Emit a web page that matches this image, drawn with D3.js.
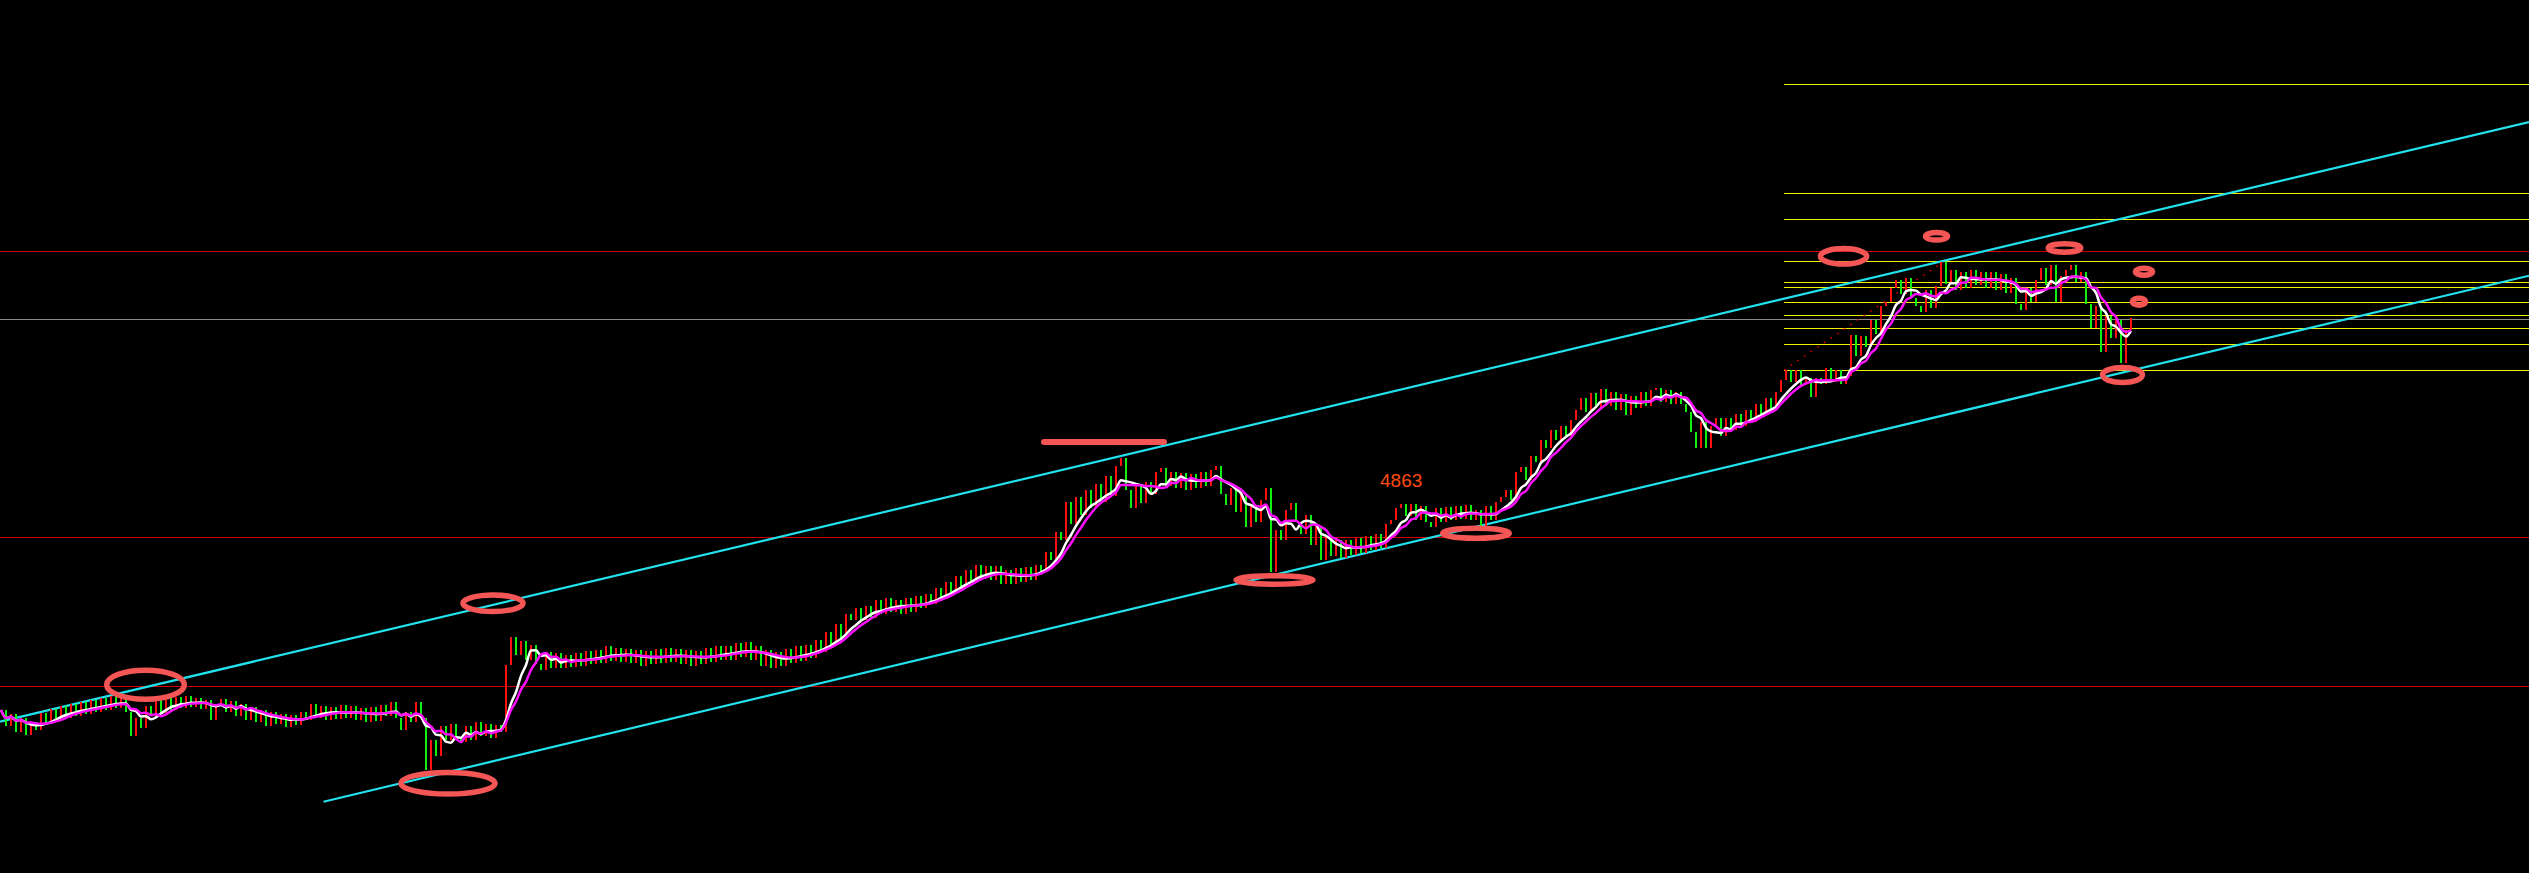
<!DOCTYPE html>
<html><head><meta charset="utf-8">
<script src="https://cdn.jsdelivr.net/npm/d3@7"></script>
<style>html,body{margin:0;padding:0;background:#000;overflow:hidden}</style>
</head><body>
<svg id="chart" width="2529" height="873"></svg>
<script>
// ---- data (price units) ----
const closes = [
4690,4674,4686,4668,4682,4665,4678,4670,4687,4676,4691,4680,4694,4682,4696,4684,4698,4686,4700,4688,
4702,4690,4704,4692,4703,4688,4664,4682,4672,4694,4684,4700,4687,4702,4690,4703,4692,4704,4693,4702,
4691,4700,4680,4696,4701,4688,4699,4684,4696,4680,4693,4678,4690,4674,4688,4676,4686,4673,4685,4675,
4688,4680,4696,4682,4694,4680,4693,4681,4695,4682,4694,4680,4692,4678,4693,4679,4695,4684,4698,4682,
4670,4688,4678,4698,4682,4630,4660,4644,4674,4660,4676,4662,4658,4674,4660,4678,4664,4676,4662,4675,
4668,4735,4763,4745,4759,4740,4755,4736,4730,4748,4732,4747,4732,4745,4733,4747,4734,4749,4736,4750,
4737,4754,4739,4752,4738,4751,4737,4750,4734,4749,4736,4751,4737,4752,4738,4751,4736,4750,4734,4749,
4736,4752,4738,4754,4740,4754,4740,4757,4743,4758,4740,4754,4734,4750,4732,4748,4734,4751,4737,4754,
4739,4755,4742,4760,4748,4768,4754,4776,4762,4786,4780,4792,4780,4794,4782,4800,4786,4802,4788,4800,
4786,4802,4788,4804,4792,4806,4796,4812,4802,4818,4806,4824,4812,4830,4818,4835,4822,4834,4820,4834,
4816,4830,4816,4832,4818,4833,4820,4835,4828,4848,4840,4868,4860,4898,4876,4903,4885,4910,4892,4916,
4898,4924,4904,4934,4942,4910,4892,4914,4897,4918,4906,4928,4932,4914,4928,4912,4927,4910,4926,4912,
4928,4914,4930,4934,4906,4895,4912,4888,4906,4873,4895,4878,4900,4912,4828,4870,4860,4890,4897,4878,
4866,4885,4855,4874,4840,4865,4844,4860,4842,4860,4845,4862,4847,4864,4850,4866,4852,4876,4880,4892,
4896,4884,4896,4880,4894,4878,4873,4892,4878,4893,4880,4894,4881,4895,4880,4890,4874,4894,4880,4898,
4903,4910,4900,4928,4933,4920,4944,4938,4960,4952,4970,4960,4974,4964,4980,4990,5002,4988,5007,4992,
5011,4994,5008,4990,5006,4985,5004,4992,5008,4994,5010,5012,4998,5010,4996,5008,4996,4988,4968,4952,
4978,4952,4974,4982,4964,4982,4970,4986,4974,4990,4978,4996,4986,5002,4990,5008,5020,5030,5018,5030,
5015,5022,5003,5022,5016,5032,5018,5030,5016,5024,5065,5044,5064,5053,5080,5066,5094,5098,5112,5120,
5106,5122,5102,5094,5088,5110,5092,5114,5138,5116,5130,5110,5128,5112,5130,5115,5128,5112,5128,5110,
5126,5107,5122,5096,5090,5112,5098,5120,5132,5115,5135,5098,5124,5130,5135,5118,5128,5096,5072,5094,
5048,5084,5062,5080,5037,5070,5082
];
const maFastWindow = 6;
const maSlowWindow = 8;
const redLevels = [5149, 4863, 4714];
const grayLevels = [5081];
const fibLevels = [5030, 5056, 5072, 5085, 5098, 5113, 5118, 5139, 5181, 5207, 5316];
const fibStartIndex = 356.6;
const channelUpper = [[-0.2, 4678.3], [505.6, 5278]];
const channelLower = [[64.5, 4598.3], [505.6, 5124.3]];
const fibTrend = [[356.6, 5030], [388.5, 5138.3]];
// ring annotations: [centerIndex, centerPrice, halfSpanIndex, halfSpanPrice]
const rings = [
  [28.9, 4715.3, 7.76, 14.5],
  [89.4, 4616.7, 9.4, 10.8],
  [98.4, 4796.8, 6.0, 8.3],
  [254.7, 4820, 7.7, 4.2],
  [295.0, 4866.8, 6.66, 5.0],
  [368.5, 5143.7, 4.62, 7.8],
  [387.1, 5163.7, 2.2, 3.8],
  [412.7, 5152, 3.24, 4.2],
  [428.6, 5128.3, 1.7, 3.5],
  [427.6, 5098.3, 1.3, 3.5],
  [424.3, 5025, 3.98, 7.5]
];
const markBar = [[208.6, 4958], [232.6, 4958]];
const labelText = "4863";
const labelAt = [275.8, 4913.5];

// ---- drawing ----
const W = 2529, H = 873;
const svg = d3.select("#chart");
svg.append("rect").attr("width", W).attr("height", H).attr("fill", "#000");
const x = d3.scaleLinear().domain([0, closes.length - 1]).range([1, 2131]);
const y = d3.scaleLinear().domain([4527, 5400]).range([H, 0]);
const crisp = v => Math.round(y(v)) + 0.5;

const gLevels = svg.append("g").attr("shape-rendering", "crispEdges");
gLevels.selectAll("line.red").data(redLevels).join("line")
  .attr("x1", 0).attr("x2", W).attr("y1", crisp).attr("y2", crisp)
  .attr("stroke", "#d00000").attr("stroke-width", 1);
gLevels.selectAll("line.gray").data(grayLevels).join("line")
  .attr("x1", 0).attr("x2", W).attr("y1", crisp).attr("y2", crisp)
  .attr("stroke", "#8a8a8a").attr("stroke-width", 1);
gLevels.selectAll("line.fib").data(fibLevels).join("line")
  .attr("x1", x(fibStartIndex)).attr("x2", W).attr("y1", crisp).attr("y2", crisp)
  .attr("stroke", "#f0f000").attr("stroke-width", 1);

svg.append("line")
  .attr("x1", x(fibTrend[0][0])).attr("y1", y(fibTrend[0][1]))
  .attr("x2", x(fibTrend[1][0])).attr("y2", y(fibTrend[1][1]))
  .attr("stroke", "#e00000").attr("stroke-width", 1.2).attr("stroke-dasharray", "2,6");

svg.selectAll("line.chan").data([channelUpper, channelLower]).join("line")
  .attr("x1", d => x(d[0][0])).attr("y1", d => y(d[0][1]))
  .attr("x2", d => x(d[1][0])).attr("y2", d => y(d[1][1]))
  .attr("stroke", "#22e2ee").attr("stroke-width", 2.2);

const candles = closes.map((c, i) => ({ i, o: i === 0 ? c : closes[i - 1], c }));
svg.append("g").attr("shape-rendering", "crispEdges").selectAll("rect").data(candles).join("rect")
  .attr("x", d => x(d.i) - 1)
  .attr("width", 2)
  .attr("y", d => y(Math.max(d.o, d.c)))
  .attr("height", d => Math.max(1, Math.abs(y(d.o) - y(d.c))))
  .attr("fill", d => d.c >= d.o ? "#ff1010" : "#10f010");

function sma(arr, w) {
  return arr.map((_, i) => d3.mean(arr.slice(Math.max(0, i - w + 1), i + 1)));
}
const line = d3.line().x((d, i) => x(i)).y(d => y(d)).curve(d3.curveMonotoneX);
svg.append("path").attr("d", line(sma(closes, maFastWindow)))
  .attr("fill", "none").attr("stroke", "#ffffff").attr("stroke-width", 2.5);
svg.append("path").attr("d", line(sma(closes, maSlowWindow)))
  .attr("fill", "none").attr("stroke", "#ff10ff").attr("stroke-width", 2.5);

svg.append("g").selectAll("ellipse").data(rings).join("ellipse")
  .attr("cx", d => x(d[0])).attr("cy", d => y(d[1]))
  .attr("rx", d => x(d[0] + d[2]) - x(d[0]))
  .attr("ry", d => y(d[1] - d[3]) - y(d[1]))
  .attr("fill", "none").attr("stroke", "#f45656").attr("stroke-width", 5.5);

svg.append("line")
  .attr("x1", x(markBar[0][0])).attr("y1", y(markBar[0][1]))
  .attr("x2", x(markBar[1][0])).attr("y2", y(markBar[1][1]))
  .attr("stroke", "#f45656").attr("stroke-width", 6).attr("stroke-linecap", "round");

svg.append("text").attr("x", x(labelAt[0])).attr("y", y(labelAt[1]))
  .attr("font-family", "Liberation Sans, Arial, sans-serif").attr("font-size", 19)
  .attr("fill", "#ff4a12").text(labelText);
</script>
</body></html>
